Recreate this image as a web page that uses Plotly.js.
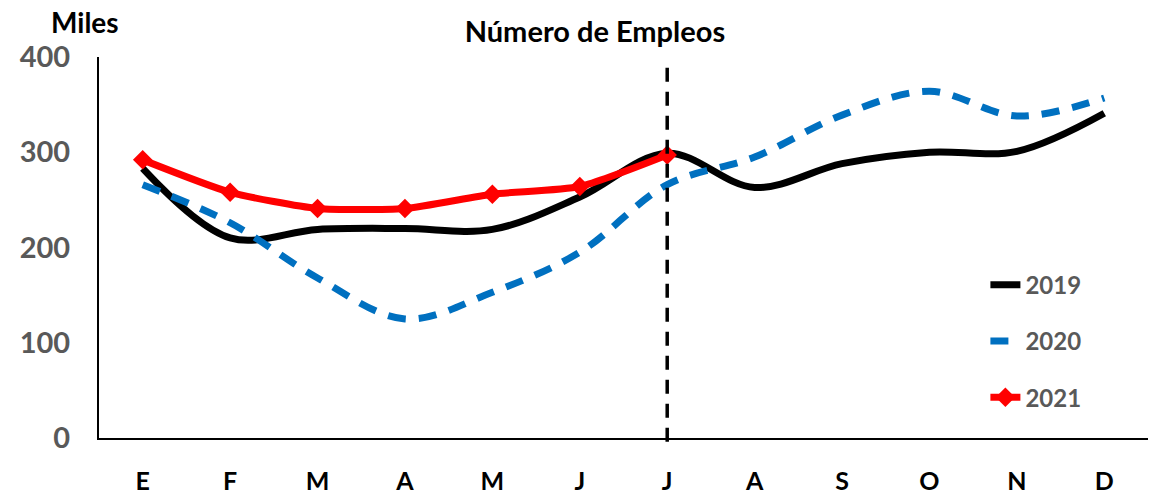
<!DOCTYPE html>
<html>
<head>
<meta charset="utf-8">
<script src="https://cdn.plot.ly/plotly-3.0.1.min.js"></script>
<style>
  html, body { margin: 0; padding: 0; background: #fff; }
  #graph { width: 1153px; height: 496px; }
</style>
</head>
<body>
<div id="graph"></div>
<script>
// Months (E..D) and jobs in thousands
const months = ['E', 'F', 'M', 'A', 'M', 'J', 'J', 'A', 'S', 'O', 'N', 'D'];
const jobs2019 = [283, 210, 219, 220, 219, 253, 299, 263, 288, 300, 301, 341];
const jobs2020 = [266, 226, 168, 125, 153, 195, 266, 295, 339, 364, 338, 357];
const jobs2021 = [292, 258, 241, 241, 256, 264, 297];
const cutMonth = 6; // dashed line at the second J

const idx = months.map((m, i) => i);

const traces = [
    {
        x: idx, y: jobs2019, name: '2019', legendgroup: 'a',
        mode: 'lines',
        line: { color: '#000000', width: 7, shape: 'spline', smoothing: 1 }
    },
    {
        x: idx, y: jobs2020, name: '2020', legendgroup: 'b',
        mode: 'lines',
        line: { color: '#0070C0', width: 7, shape: 'spline', smoothing: 1, dash: '18px,13px' }
    },
    {
        x: idx.slice(0, jobs2021.length), y: jobs2021, name: '2021', legendgroup: 'c',
        mode: 'lines+markers',
        line: { color: '#FF0000', width: 7, shape: 'spline', smoothing: 0.6 },
        marker: { symbol: 'diamond', size: 15, color: '#FF0000' }
    }
];

const layout = {
    width: 1153,
    height: 496,
    margin: { l: 99, r: 5, t: 57, b: 58 },
    paper_bgcolor: '#fff',
    plot_bgcolor: '#fff',
    font: { family: 'Lato, sans-serif', color: '#000' },
    title: {
        text: '<b>Número de Empleos</b>',
        font: { size: 29, color: '#000' },
        x: 0.516, xanchor: 'center', xref: 'container',
        y: 0.935, yanchor: 'middle', yref: 'container'
    },
    xaxis: {
        range: [-0.5, 11.5],
        tickvals: idx,
        ticktext: months,
        showgrid: false,
        zeroline: false,
        showline: true,
        linecolor: '#000',
        linewidth: 2,
        ticks: '',
        ticklabelstandoff: 20,
        tickfont: { size: 25, color: '#000', weight: 'bold' }
    },
    yaxis: {
        range: [0, 400],
        tickvals: [0, 100, 200, 300, 400],
        showgrid: false,
        zeroline: false,
        showline: true,
        linecolor: '#000',
        linewidth: 2,
        ticks: '',
        ticklabelstandoff: 21,
        tickfont: { size: 29, color: '#595959', weight: 'bold' }
    },
    shapes: [
        {
            type: 'line', xref: 'x', yref: 'paper',
            x0: cutMonth, x1: cutMonth, y0: -0.01, y1: 0.99,
            line: { color: '#000', width: 3.5, dash: '14px,10px' }
        }
    ],
    annotations: [
        {
            text: '<b>Miles</b>', xref: 'paper', yref: 'paper',
            x: -0.013, y: 1.092, xanchor: 'center', yanchor: 'middle',
            showarrow: false, font: { size: 28, color: '#000' }
        }
    ],
    legend: {
        x: 0.845, xanchor: 'left',
        y: 0.46, yanchor: 'top',
        bgcolor: 'rgba(0,0,0,0)',
        font: { size: 24, color: '#595959', weight: 'bold' },
        traceorder: 'grouped',
        tracegroupgap: 22
    },
    showlegend: true
};

Plotly.newPlot('graph', traces, layout, { displayModeBar: false, staticPlot: true });
</script>
</body>
</html>
